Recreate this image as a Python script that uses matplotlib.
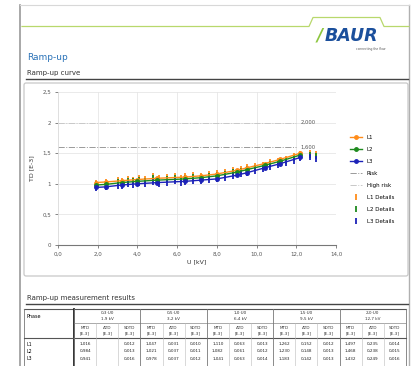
import numpy as np
import matplotlib
matplotlib.use("Agg")
from matplotlib import pyplot as plt
from matplotlib.patches import FancyBboxPatch

# ramp-up curve (mean values per phase)
volt = [1.9, 2.4, 3.2, 4.0, 5.0, 6.4, 7.2, 8.0, 9.0, 9.5, 10.4, 11.2, 12.2]
l1 = [1.02, 1.03, 1.05, 1.07, 1.09, 1.11, 1.13, 1.16, 1.22, 1.26, 1.33, 1.40, 1.50]
l2 = [0.98, 0.99, 1.02, 1.04, 1.06, 1.08, 1.10, 1.13, 1.19, 1.23, 1.30, 1.37, 1.47]
l3 = [0.94, 0.95, 0.98, 1.00, 1.02, 1.04, 1.06, 1.08, 1.14, 1.18, 1.26, 1.33, 1.43]

# detail measurements
det_u = [1.9, 2.4, 3.0, 3.2, 3.5, 3.8, 4.1, 4.4, 4.8, 5.1, 5.5, 5.9, 6.2, 6.4,
         6.8, 7.2, 7.6, 8.0, 8.4, 8.8, 9.2, 9.5, 9.9, 10.3, 10.7, 11.1, 11.5,
         11.9, 12.2, 12.7, 13.0]
det_l1 = [1.02, 1.03, 1.06, 1.05, 1.08, 1.07, 1.10, 1.08, 1.12, 1.09, 1.11, 1.13,
          1.10, 1.12, 1.14, 1.13, 1.16, 1.17, 1.19, 1.22, 1.24, 1.27, 1.29, 1.31,
          1.35, 1.37, 1.41, 1.45, 1.49, 1.50, 1.48]
det_l2 = [0.99, 1.00, 1.03, 1.02, 1.05, 1.04, 1.07, 1.05, 1.09, 1.06, 1.08, 1.10,
          1.07, 1.09, 1.11, 1.10, 1.13, 1.14, 1.16, 1.19, 1.21, 1.24, 1.26, 1.28,
          1.32, 1.34, 1.38, 1.42, 1.46, 1.47, 1.45]
det_l3 = [0.93, 0.95, 0.97, 0.96, 0.99, 0.98, 1.01, 0.99, 1.03, 1.00, 1.02, 1.04,
          1.01, 1.03, 1.05, 1.04, 1.06, 1.08, 1.10, 1.13, 1.16, 1.18, 1.21, 1.24,
          1.27, 1.30, 1.34, 1.38, 1.42, 1.43, 1.41]

risk = 1.6
high_risk = 2.0

x_ticks = [0, 2, 4, 6, 8, 10, 12, 14]
y_ticks = [0, 0.5, 1, 1.5, 2, 2.5]

# table
groups = ["0,3·U0\n1,9 kV", "0,5·U0\n3,2 kV", "1,0·U0\n6,4 kV",
          "1,5·U0\n9,5 kV", "2,0·U0\n12,7 kV"]
sub_cols = ["MTD\n[E-3]", "ΔTD\n[E-3]", "SDTD\n[E-3]"]
phases = ["L1", "L2", "L3"]
tab_mtd = [["1,016", "1,047", "1,110", "1,262", "1,497"],
           ["0,984", "1,021", "1,082", "1,230", "1,468"],
           ["0,941", "0,978", "1,041", "1,183", "1,432"]]
tab_dtd = [["", "0,031", "0,063", "0,152", "0,235"],
           ["", "0,037", "0,061", "0,148", "0,238"],
           ["", "0,037", "0,063", "0,142", "0,249"]]
tab_sd = [["0,012", "0,010", "0,013", "0,012", "0,014"],
          ["0,013", "0,011", "0,012", "0,013", "0,015"],
          ["0,016", "0,012", "0,014", "0,013", "0,016"]]

C1, C2, C3 = "#ff8c1a", "#1e8a1e", "#1c22b8"

fig = plt.figure(figsize=(4.17, 3.66), dpi=100)

# page layer in pixel coordinates
pg = fig.add_axes([0, 0, 1, 1])
pg.set_xlim(0, 417)
pg.set_ylim(366, 0)
pg.axis("off")

pg.plot([20.5, 20.5], [5, 366], color="#9a9a9a", lw=1.2)
pg.plot([409.5, 409.5], [5, 366], color="#b0b0b0", lw=1.0)
pg.plot([20.5, 409.5], [5, 5], color="#d8d8d8", lw=0.8)
pg.plot([22, 309, 313, 380, 384, 409], [26.5, 26.5, 17.5, 17.5, 26.5, 26.5],
        color="#b8d86c", lw=0.9)
pg.text(317, 36, "/", color="#8dc63f", fontsize=12, fontweight="heavy",
        style="italic", va="center", ha="left")
pg.text(325, 36, "BAUR", color="#1b4f9c", fontsize=12.5, fontweight="heavy",
        style="italic", va="center", ha="left")
pg.text(386, 49, "connecting the flow", color="#555555", fontsize=2.2,
        va="center", ha="right")

pg.text(27, 57, "Ramp-up", color="#2a72b8", fontsize=6.5, va="center")
pg.text(27, 73, "Ramp-up curve", color="#333333", fontsize=5, va="center")
pg.plot([26, 408], [79, 79], color="#444444", lw=1.0)
pg.add_patch(FancyBboxPatch((24, 83), 384, 193, boxstyle="round,pad=0,rounding_size=2",
                            fc="white", ec="#c8c8c8", lw=0.9))

# chart
ax = fig.add_axes([58 / 417, 1 - 245 / 366, 278 / 417, 153 / 366])
ax.plot(volt, l1, color=C1, marker="o", ms=2.5, lw=1.0, label="L1", zorder=4)
ax.plot(volt, l2, color=C2, marker="o", ms=2.5, lw=1.0, label="L2", zorder=4)
ax.plot(volt, l3, color=C3, marker="o", ms=2.5, lw=1.0, label="L3", zorder=4)
ax.plot([0, 12], [risk, risk], color="#9a9a9a", ls="-.", lw=0.7, label="Risk")
ax.plot([0, 12], [high_risk, high_risk], color="#c8c8c8", ls="-.", lw=0.7, label="High risk")
ax.text(12.2, risk, "1,600", fontsize=3.8, color="#555555", va="center")
ax.text(12.2, high_risk, "2,000", fontsize=3.8, color="#555555", va="center")
ax.plot(det_u, det_l1, ls="none", marker="|", ms=5, mew=1.3, color=C1, label="L1 Details", zorder=3)
ax.plot(det_u, det_l2, ls="none", marker="|", ms=5, mew=1.3, color=C2, label="L2 Details", zorder=3)
ax.plot(det_u, det_l3, ls="none", marker="|", ms=5, mew=1.3, color=C3, label="L3 Details", zorder=3)

ax.set_xlim(0, 14)
ax.set_ylim(0, 2.5)
ax.set_xticks(x_ticks)
ax.set_xticklabels(["{:.1f}".format(v).replace(".", ",") for v in x_ticks])
ax.set_yticks(y_ticks)
ax.set_yticklabels([("{:g}".format(v)).replace(".", ",") for v in y_ticks])
ax.tick_params(labelsize=4, colors="#555555", length=2, width=0.5, pad=3)
ax.grid(True, color="#e6e6e6", lw=0.6)
ax.set_axisbelow(True)
for s in ["top", "right"]:
    ax.spines[s].set_visible(False)
ax.spines["left"].set_color("#dddddd")
ax.spines["bottom"].set_color("#777777")
ax.spines["left"].set_linewidth(0.6)
ax.spines["bottom"].set_linewidth(0.8)
ax.set_xlabel("U [kV]", fontsize=4.5, color="#333333", labelpad=2)
ax.set_ylabel("TD [E-3]", fontsize=4.5, color="#333333", labelpad=6)
ax.legend(loc="upper left", bbox_to_anchor=(345 / 417, 1 - 130 / 366),
          bbox_transform=fig.transFigure, frameon=False, fontsize=4,
          handlelength=2.2, labelspacing=1.25, handletextpad=0.8)

# table
pg.text(27, 298, "Ramp-up measurement results", color="#333333", fontsize=5, va="center")
pg.plot([26, 408], [304, 304], color="#444444", lw=1.0)
x0, x1, gw = 24, 74, 66.4
ytop, yh1, yh2, ybot = 309, 323, 338, 366
pg.plot([x0, 406], [ytop, ytop], color="#555555", lw=0.8)
pg.plot([x0, x0], [ytop, ybot], color="#777777", lw=0.6)
pg.plot([x1, x1], [ytop, ybot], color="#222222", lw=1.3)
pg.plot([406, 406], [ytop, ybot], color="#777777", lw=0.6)
pg.plot([x1, 406], [yh1, yh1], color="#888888", lw=0.5)
pg.plot([x0, 406], [yh2, yh2], color="#555555", lw=0.8)
pg.text(x0 + 3, 316, "Phase", fontsize=3.5, va="center")
for g, lab in enumerate(groups):
    gx = x1 + g * gw
    pg.plot([gx, gx], [ytop, ybot], color="#777777", lw=0.6)
    pg.text(gx + gw / 2, (ytop + yh1) / 2, lab, fontsize=3, ha="center",
            va="center", linespacing=1.4, color="#333333")
    for k, sc in enumerate(sub_cols):
        cx = gx + (k + 0.5) * gw / 3
        if k > 0:
            pg.plot([gx + k * gw / 3] * 2, [yh1, ybot], color="#bbbbbb", lw=0.4)
        pg.text(cx, (yh1 + yh2) / 2, sc, fontsize=3, ha="center", va="center",
                linespacing=1.4, color="#333333")
for r, ph in enumerate(phases):
    yy = 344 + r * 7.5
    pg.text(x0 + 3, yy, ph, fontsize=3.3, va="center")
    for g in range(len(groups)):
        gx = x1 + g * gw
        for k, col in enumerate([tab_mtd, tab_dtd, tab_sd]):
            pg.text(gx + (k + 0.5) * gw / 3, yy, col[r][g], fontsize=3,
                    ha="center", va="center", color="#222222")

fig.savefig("out.png", dpi=100)
